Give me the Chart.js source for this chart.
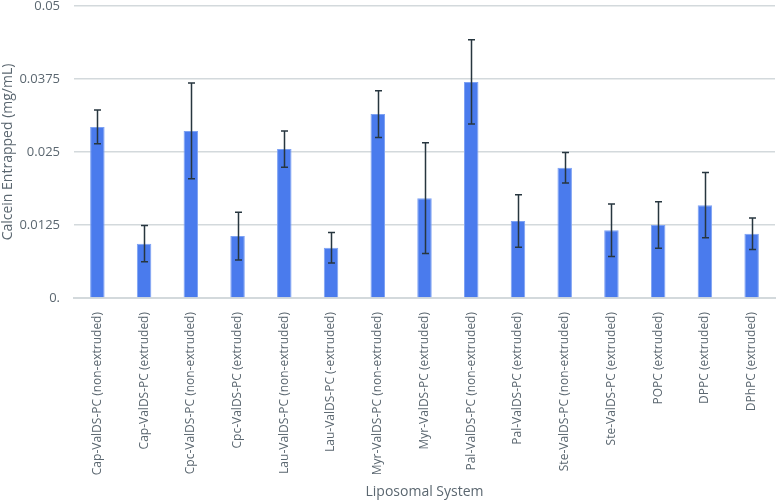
<!DOCTYPE html>
<html>
<head>
<meta charset="utf-8">
<script src="https://cdn.jsdelivr.net/npm/chart.js@4"></script>
<style>
  html, body { margin: 0; padding: 0; background: #fff; }
  .chartcontent { width: 776px; height: 502px; }
</style>
</head>
<body>
<div class="chartcontent"><canvas id="chart"></canvas></div>
<script>
const categories = [
  'Cap-ValDS-PC (non-extruded)', 'Cap-ValDS-PC (extruded)',
  'Cpc-ValDS-PC (non-extruded)', 'Cpc-ValDS-PC (extruded)',
  'Lau-ValDS-PC (non-extruded)', 'Lau-ValDS-PC (-extruded)',
  'Myr-ValDS-PC (non-extruded)', 'Myr-ValDS-PC (extruded)',
  'Pal-ValDS-PC (non-extruded)', 'Pal-ValDS-PC (extruded)',
  'Ste-ValDS-PC (non-extruded)', 'Ste-ValDS-PC (extruded)',
  'POPC (extruded)', 'DPPC (extruded)', 'DPhPC (extruded)'
];
const entrapped = [0.0293, 0.0093, 0.0286, 0.0106, 0.0255, 0.0086, 0.0315, 0.0171,
  0.0370, 0.0132, 0.0223, 0.0116, 0.0125, 0.0159, 0.0110];
const errors = [0.0029, 0.0031, 0.0082, 0.0041, 0.0031, 0.0026, 0.0040, 0.0095,
  0.0072, 0.0045, 0.0026, 0.0045, 0.0040, 0.0056, 0.0027];
const yTicks = [0, 0.0125, 0.025, 0.0375, 0.05];
const yTickLabels = ['0.', '0.0125', '0.025', '0.0375', '0.05'];

const textColor = '#5b6770';

// draws the error bars from the y scale
const errorBars = {
  id: 'errorBars',
  afterDatasetsDraw(chart) {
    const ctx = chart.ctx;
    const y = chart.scales.y;
    const meta = chart.getDatasetMeta(0);
    ctx.save();
    ctx.strokeStyle = '#27363f';
    ctx.lineWidth = 1.5;
    meta.data.forEach((bar, i) => {
      const top = y.getPixelForValue(entrapped[i] + errors[i]);
      const bot = y.getPixelForValue(entrapped[i] - errors[i]);
      const x = Math.round(bar.x) + 0.5;
      ctx.beginPath();
      ctx.moveTo(x, top); ctx.lineTo(x, bot);
      ctx.moveTo(x - 3.5, top); ctx.lineTo(x + 3.5, top);
      ctx.moveTo(x - 3.5, bot); ctx.lineTo(x + 3.5, bot);
      ctx.stroke();
    });
    ctx.restore();
  }
};

new Chart(document.getElementById('chart'), {
  type: 'bar',
  data: {
    labels: categories,
    datasets: [{
      data: entrapped,
      backgroundColor: '#4a7bed',
      borderColor: '#7ea2f3',
      borderWidth: 1,
      barPercentage: 0.31,
      categoryPercentage: 1
    }]
  },
  options: {
    responsive: true,
    maintainAspectRatio: false,
    animation: false,
    layout: { padding: { top: 6, right: 1, left: 0, bottom: 0 } },
    plugins: { legend: { display: false }, tooltip: { enabled: false } },
    scales: {
      x: {
        grid: { display: false, drawTicks: false },
        border: { color: '#d3d9dc', width: 2 },
        ticks: {
          color: textColor, font: { family: 'Open Sans', size: 12 },
          minRotation: 90, maxRotation: 90, padding: 14, autoSkip: false
        },
        title: {
          display: true, text: 'Liposomal System', color: textColor,
          font: { family: 'Open Sans', size: 14 }, padding: { top: 4, bottom: 2 }
        },
        afterFit(scale) {
          scale.height = 204;
          scale.paddingLeft = 0;
          scale.paddingRight = 0;
        }
      },
      y: {
        min: 0, max: 0.05,
        afterBuildTicks(scale) { scale.ticks = yTicks.map(v => ({ value: v })); },
        grid: { color: '#d3d9dc', lineWidth: 1.5, drawTicks: false },
        border: { display: false },
        ticks: {
          color: textColor, font: { family: 'Open Sans', size: 13 }, padding: 14,
          callback: (v) => yTickLabels[yTicks.indexOf(v)]
        },
        title: {
          display: true, text: 'Calcein Entrapped (mg/mL)', color: textColor,
          font: { family: 'Open Sans', size: 14 }, padding: { top: 0, bottom: 4 }
        },
        afterFit(scale) {
          scale.width = 74;
          scale.paddingTop = 0;
          scale.paddingBottom = 0;
        }
      }
    }
  },
  plugins: [errorBars]
});
</script>
</body>
</html>
